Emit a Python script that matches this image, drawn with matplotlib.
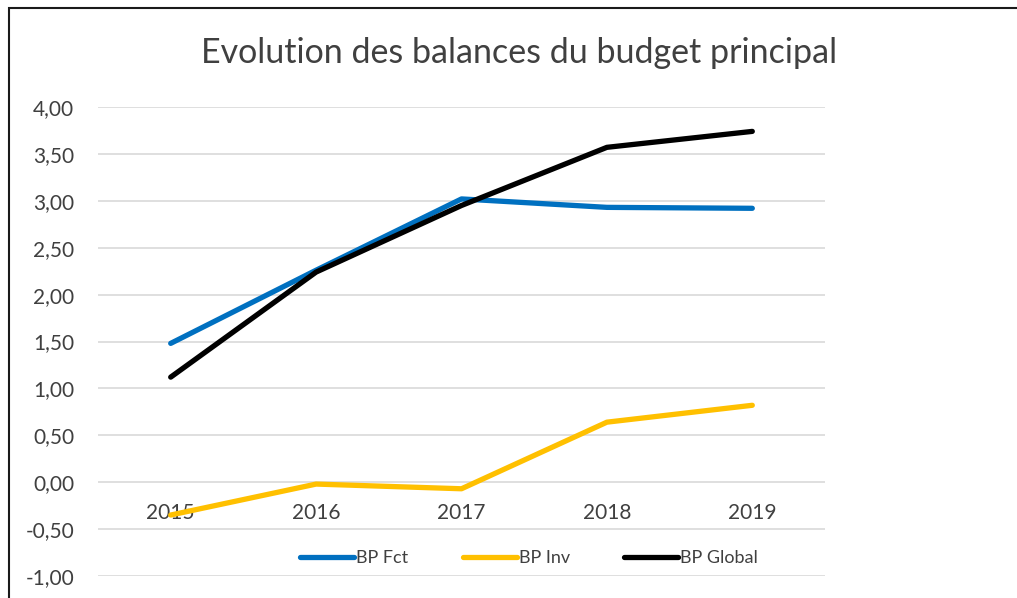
import matplotlib.pyplot as plt
from matplotlib.patches import Rectangle

plt.rcParams['font.family'] = ['Lato', 'DejaVu Sans']

annees = ['2015', '2016', '2017', '2018', '2019']
bp_fct = [1.48, 2.26, 3.02, 2.93, 2.92]
bp_inv = [-0.35, -0.02, -0.07, 0.64, 0.82]
bp_global = [1.12, 2.24, 2.95, 3.57, 3.74]
yticks = [-1.0, -0.5, 0.0, 0.5, 1.0, 1.5, 2.0, 2.5, 3.0, 3.5, 4.0]

gris = '#404040'

fig = plt.figure(figsize=(10.17, 5.98), dpi=100)
ax = fig.add_axes([98/1017, 1-576/598, (825-98)/1017, (576-107)/598])

x = list(range(len(annees)))
ax.plot(x, bp_fct, color='#0070C0', lw=3.8, label='BP Fct', solid_capstyle='round')
ax.plot(x, bp_inv, color='#FFC000', lw=3.8, label='BP Inv', solid_capstyle='round')
ax.plot(x, bp_global, color='black', lw=3.8, label='BP Global', solid_capstyle='round')

ax.set_xlim(-0.5, 4.5)
ax.set_ylim(-1, 4)
ax.set_yticks(yticks)
ax.set_yticklabels([('%.2f' % v).replace('.', ',') for v in yticks])
ax.set_xticks(x)
ax.set_xticklabels(annees)
ax.yaxis.grid(True, color='#D9D9D9', lw=1.2)
ax.set_axisbelow(True)
for s in ['left', 'right', 'top']:
    ax.spines[s].set_visible(False)
ax.spines['bottom'].set_position(('data', 0))
ax.spines['bottom'].set_visible(False)
ax.tick_params(axis='y', length=0, pad=17, labelsize=15, labelcolor=gris)
ax.tick_params(axis='x', length=0, pad=15, labelsize=15, labelcolor=gris)

fig.text(519/1017, 1-53/598, 'Evolution des balances du budget principal',
         ha='center', va='center', fontsize=24.5, color=gris)

ax.legend(loc='center', bbox_to_anchor=(529/1017, 1-558/598), bbox_transform=fig.transFigure,
          ncol=3, frameon=False, fontsize=13, handlelength=3.0, handletextpad=0.1,
          columnspacing=3.0, labelcolor=gris)

fig.patches.append(Rectangle((9/1017, -0.1), 1.2, 1-8/598+0.1, transform=fig.transFigure,
                             fill=False, edgecolor='#1a1a1a', lw=1.5))

fig.savefig('out.png', dpi=100)
